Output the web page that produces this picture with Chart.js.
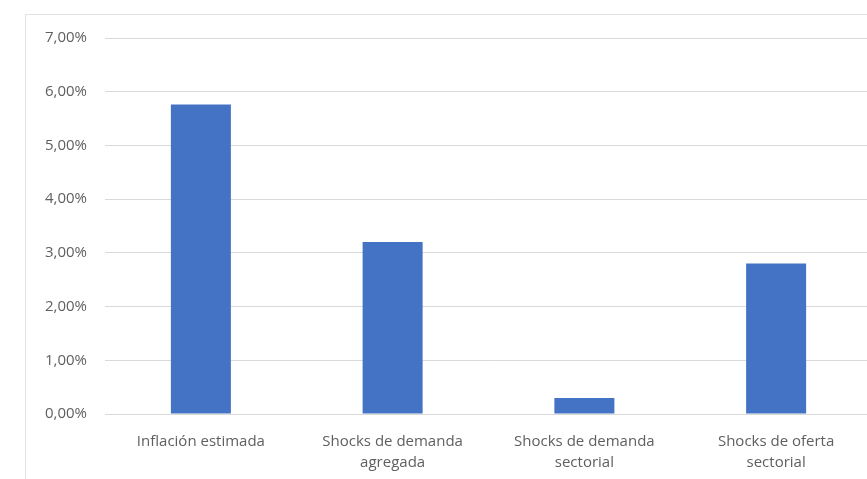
<!DOCTYPE html>
<html lang="es">
<head>
<meta charset="utf-8">
<title>Inflación estimada y shocks</title>
<script src="https://cdn.jsdelivr.net/npm/chart.js@4/dist/chart.umd.min.js"></script>
<style>
  html, body { margin: 0; padding: 0; background: #fff; overflow: hidden; }
  #frame {
    position: absolute; left: 25px; top: 14px;
    width: 900px; height: 520px;
    border: 1px solid #e3e3e3; box-sizing: border-box;
  }
  #chart { position: absolute; left: 0; top: 0; }
</style>
</head>
<body>
<div id="frame"></div>
<canvas id="chart" width="900" height="479"></canvas>
<script>
// categories (multi-line labels) and values in percent
const categories = [
  ['Inflación estimada'],
  ['Shocks de demanda', 'agregada'],
  ['Shocks de demanda', 'sectorial'],
  ['Shocks de oferta', 'sectorial']
];
const values = [5.76, 3.2, 0.3, 2.8];

const yMin = 0;
const yMax = 7;
const yStep = 1;

const fmtPct = v => v.toFixed(2).replace('.', ',') + '%';

const textColor = '#5f5f5f';
const gridColor = '#d9d9d9';
const barColor = '#4472c4';

new Chart(document.getElementById('chart').getContext('2d'), {
  type: 'bar',
  data: {
    labels: categories,
    datasets: [{
      data: values,
      backgroundColor: barColor,
      borderWidth: 0,
      categoryPercentage: 0.313,
      barPercentage: 1
    }]
  },
  options: {
    responsive: false,
    animation: false,
    layout: { padding: { top: 38, right: 28, left: 0, bottom: 0 } },
    plugins: {
      legend: { display: false },
      tooltip: { enabled: false }
    },
    scales: {
      x: {
        grid: { display: false },
        border: { display: false },
        ticks: {
          color: textColor,
          padding: 9,
          font: { family: 'Open Sans', size: 15, lineHeight: '21px' },
          maxRotation: 0
        },
        afterFit: s => { s.height = 65; }
      },
      y: {
        min: yMin,
        max: yMax,
        grid: { color: gridColor, lineWidth: 1, drawTicks: false },
        border: { display: false },
        ticks: {
          stepSize: yStep,
          color: textColor,
          padding: 18,
          font: { family: 'Open Sans', size: 15 },
          callback: v => fmtPct(v)
        },
        afterFit: s => { s.width = 105; }
      }
    }
  }
});
</script>
</body>
</html>
